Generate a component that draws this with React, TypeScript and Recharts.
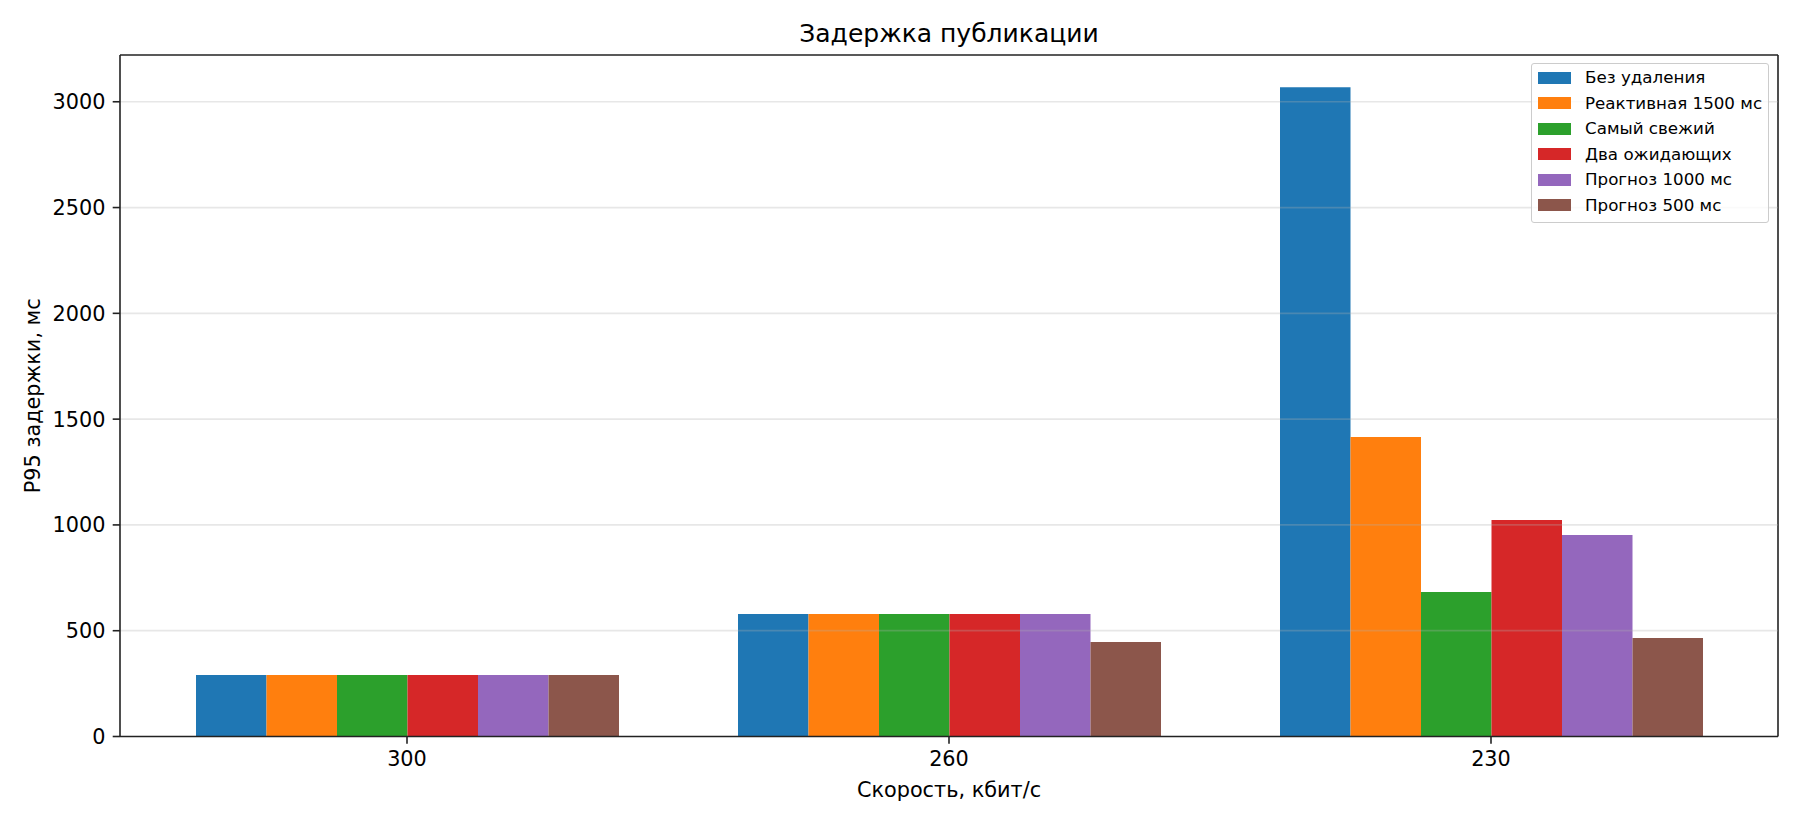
import React from 'react';
import { BarChart, Bar, XAxis, YAxis, Legend, ReferenceLine, Label, CartesianGrid } from 'recharts';

// Скорость канала, кбит/с
const speeds = ['300', '260', '230'];

// P95 задержки публикации, мс
const noDrop = [291, 579, 3069];
const reactive1500 = [291, 579, 1415];
const freshest = [291, 579, 683];
const twoPending = [291, 579, 1023];
const forecast1000 = [291, 579, 952];
const forecast500 = [291, 447, 465];

const yTicks = [0, 500, 1000, 1500, 2000, 2500, 3000];
const yMax = 3221;

const series = [
  { key: 'noDrop', name: 'Без удаления', color: '#1f77b4', values: noDrop },
  { key: 'reactive1500', name: 'Реактивная 1500 мс', color: '#ff7f0e', values: reactive1500 },
  { key: 'freshest', name: 'Самый свежий', color: '#2ca02c', values: freshest },
  { key: 'twoPending', name: 'Два ожидающих', color: '#d62728', values: twoPending },
  { key: 'forecast1000', name: 'Прогноз 1000 мс', color: '#9467bd', values: forecast1000 },
  { key: 'forecast500', name: 'Прогноз 500 мс', color: '#8c564b', values: forecast500 },
];

const chartData = speeds.map((speed, i) => {
  const row: Record<string, string | number> = { speed };
  series.forEach((s) => {
    row[s.key] = s.values[i];
  });
  return row;
});

const FONT = '"DejaVu Sans", sans-serif';
const AXIS_COLOR = '#222222';

// легенда в порядке серий, а не по алфавиту
const LegendBox = (props: any) => {
  const order = series.map((s) => s.name);
  const payload = [...(props.payload || [])].sort(
    (a: any, b: any) => order.indexOf(a.value) - order.indexOf(b.value)
  );
  return (
    <div
      style={{
        background: 'rgba(255,255,255,0.8)',
        border: '1.4px solid #cccccc',
        borderRadius: 3,
        padding: '1px 0 4px 0',
        width: 238,
        fontFamily: FONT,
        fontSize: 16.7,
        color: '#000',
        boxSizing: 'border-box',
      }}
    >
      {payload.map((entry: any) => (
        <div key={entry.value} style={{ display: 'flex', alignItems: 'center', height: 25.5, lineHeight: '25.5px' }}>
          <span style={{ display: 'inline-block', width: 33, height: 11.7, marginLeft: 6, background: entry.color }} />
          <span style={{ marginLeft: 14, whiteSpace: 'nowrap' }}>{entry.value}</span>
        </div>
      ))}
    </div>
  );
};

const App: React.FC = () => {
  return (
    <div style={{ position: 'absolute', left: 0, top: 0, width: 1800, height: 825, background: '#fff' }}>
      <div
        style={{
          position: 'absolute',
          left: 120,
          top: 21,
          width: 1658,
          textAlign: 'center',
          fontFamily: FONT,
          fontSize: 25,
          lineHeight: '25px',
          color: '#000',
        }}
      >
        Задержка публикации
      </div>
      <BarChart
        width={1800}
        height={825}
        data={chartData}
        margin={{ top: 55, right: 22, bottom: 0, left: 0 }}
        barGap={0}
        barSize={70.5}
      >
        {/* верхняя и правая рамка осей */}
        <CartesianGrid
          stroke={AXIS_COLOR}
          strokeWidth={1.6}
          strokeDasharray=""
          horizontalCoordinatesGenerator={({ offset }: any) => [offset.top]}
          verticalCoordinatesGenerator={({ offset }: any) => [offset.left + offset.width]}
        />
        <XAxis
          dataKey="speed"
          padding={{ left: 16, right: 16 }}
          height={88.5}
          stroke={AXIS_COLOR}
          strokeWidth={1.6}
          tickSize={7.3}
          tickMargin={7.3}
          tick={{ fill: '#000', fontFamily: FONT, fontSize: 20.8 }}
        >
          <Label
            value="Скорость, кбит/с"
            position="insideBottom"
            offset={28}
            style={{ fill: '#000', fontFamily: FONT, fontSize: 20.8 }}
          />
        </XAxis>
        <YAxis
          type="number"
          domain={[0, yMax]}
          ticks={yTicks}
          interval={0}
          width={120}
          stroke={AXIS_COLOR}
          strokeWidth={1.6}
          tickSize={7.3}
          tickMargin={7.3}
          tick={{ fill: '#000', fontFamily: FONT, fontSize: 20.8 }}
        >
          <Label
            value="P95 задержки, мс"
            angle={-90}
            position="insideLeft"
            offset={33}
            style={{ fill: '#000', fontFamily: FONT, fontSize: 20.8, textAnchor: 'middle' }}
          />
        </YAxis>
        <Legend
          layout="vertical"
          align="center"
          verticalAlign="middle"
          itemSorter={null as any}
          content={<LegendBox />}
          wrapperStyle={{ left: 1531, top: 63, width: 238 }}
        />
        {series.map((s) => (
          <Bar key={s.key} dataKey={s.key} name={s.name} fill={s.color} isAnimationActive={false} />
        ))}
        {yTicks
          .filter((t) => t > 0)
          .map((t) => (
            <ReferenceLine key={t} y={t} stroke="#b0b0b0" strokeOpacity={0.3} strokeWidth={1.67} />
          ))}
      </BarChart>
    </div>
  );
};

export default App;
